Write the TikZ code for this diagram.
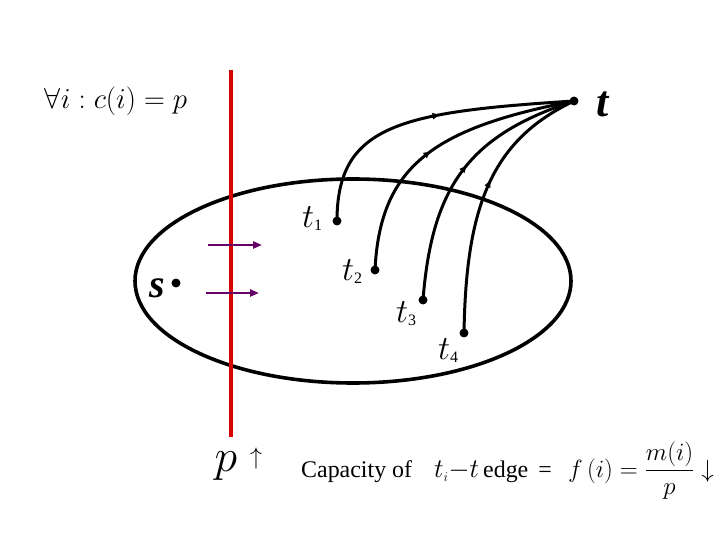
\RequirePackage{fix-cm}
\documentclass[tikz,border=0pt]{standalone}
\usepackage{amsmath}
\usepackage{fontspec}
\setmainfont{Liberation Serif}
\usetikzlibrary{decorations.markings,arrows.meta}
\tikzset{
  blk/.style={line width=3.6pt,black},
  flow/.style={line width=3pt,black,postaction={decorate},
    decoration={markings,mark=at position #1 with {\arrow{Triangle[length=7pt,width=6pt]}}}},
  cutarrow/.style={line width=2.6pt,color=violet!80!black,-{Triangle[length=9pt,width=7pt]}},
  dot/.style={circle,fill=black,inner sep=0pt,minimum size=9pt},
  lbl/.style={inner sep=0pt},
  tlab/.style={inner sep=0pt,font=\fontsize{34}{34}\selectfont}
}
\newcommand{\tsub}[1]{$t$\raisebox{-3pt}{\fontsize{16}{16}\selectfont #1}}
\begin{document}
\begin{tikzpicture}[x=1bp,y=-1bp]
\useasboundingbox (0,0) rectangle (720,540);
% ellipse
\draw[blk] (353,281) ellipse [x radius=218, y radius=102];
% cut line
\draw[line width=3.6pt,color=red!85!black] (231,70) -- (231,437);
% arrows across the cut
\draw[cutarrow] (208,245) -- (262,245);
\draw[cutarrow] (206,293) -- (259,293);
% nodes
\node[dot] (s) at (176,283) {};
\node[lbl,font=\fontsize{40}{40}\selectfont\bfseries\itshape] (sl) at (157,288) {s};
\node[dot] (t) at (574,101) {};
\node[lbl,font=\fontsize{44}{44}\selectfont\bfseries\itshape] (tl) at (603,104) {t};
\node[dot] (t1) at (337,221) {};
\node[dot] (t2) at (375,270) {};
\node[dot] (t3) at (423,300) {};
\node[dot] (t4) at (464,333) {};
\node[tlab] (l1) at (312,219) {\tsub{1}};
\node[tlab] (l2) at (352,272) {\tsub{2}};
\node[tlab] (l3) at (406,314) {\tsub{3}};
\node[tlab] (l4) at (448,351) {\tsub{4}};
% flows to t
\draw[flow=0.55] (t1.center) .. controls (337,125) and (400,112) .. (t.center);
\draw[flow=0.47] (t2.center) .. controls (380,165) and (435,128) .. (t.center);
\draw[flow=0.53] (t3.center) .. controls (432,185) and (470,135) .. (t.center);
\draw[flow=0.57] (t4.center) .. controls (466,205) and (492,140) .. (t.center);
% texts
\node[lbl,font=\fontsize{29}{29}\selectfont] (cond) at (116,101) {$\forall i : c(i) = p$};
\node[lbl,font=\fontsize{46}{46}\selectfont] (p) at (226,466) {$p$};
\node[lbl,font=\fontsize{24}{24}\selectfont] (up) at (256,459) {$\uparrow$};
\node[lbl,anchor=base west,font=\fontsize{24}{24}\selectfont] (cap) at (301,477) {Capacity of};
\node[lbl,anchor=base west,font=\fontsize{27}{27}\selectfont] (ti) at (434,477) {$t_{\scriptscriptstyle i}{-}t$};
\node[lbl,anchor=base west,font=\fontsize{24}{24}\selectfont] (edge) at (483,477) {edge \,=};
\node[lbl,anchor=base west,font=\fontsize{25}{25}\selectfont] (frac) at (568,477) {$f\,(i)=\dfrac{m(i)}{p}\downarrow$};
\end{tikzpicture}
\end{document}
